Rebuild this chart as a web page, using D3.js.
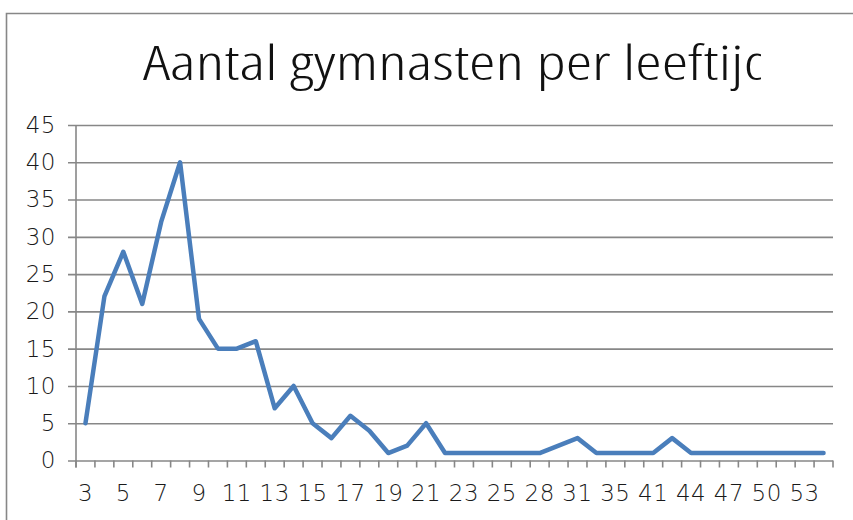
<!DOCTYPE html>
<html>
<head>
<meta charset="utf-8">
<script src="https://cdn.jsdelivr.net/npm/d3@7"></script>
<style>
  body { margin: 0; background: #fff; }
</style>
</head>
<body>
<div id="chart"></div>
<script>
// leeftijden (every other label is shown on the axis)
var ages = [3,4,5,6,7,8,9,10,11,12,13,14,15,16,17,18,19,20,21,22,23,24,25,
            27,28,30,31,33,35,38,41,42,44,45,47,48,50,51,53,56];
// aantal gymnasten
var counts = [5,22,28,21,32,40,19,15,15,16,7,10,5,3,6,4,1,2,5,
              1,1,1,1,1,1,2,3,1,1,1,1,3,1,1,1,1,1,1,1,1];
var yTicks = [0,5,10,15,20,25,30,35,40,45];
var title = "Aantal gymnasten per leeftijd";

var width = 853, height = 520;
var plotLeft = 76, plotRight = 833, plotTop = 125, plotBottom = 460.5;
var grey = "#878787";
var labelFont = "'DejaVu Sans', sans-serif";

var svg = d3.select("#chart").append("svg")
    .attr("width", width)
    .attr("height", height);

// outer chart border (top + left visible)
svg.append("path")
    .attr("d", "M6.5,520 V13.5 H853")
    .attr("fill", "none")
    .attr("stroke", grey)
    .attr("stroke-width", 1.6);

// title, clipped like the original
svg.append("clipPath").attr("id", "titleclip")
  .append("rect").attr("x", 0).attr("y", 0).attr("width", 761).attr("height", 110);

svg.append("text")
    .attr("clip-path", "url(#titleclip)")
    .attr("x", 143)
    .attr("y", 80)
    .attr("textLength", 630)
    .attr("lengthAdjust", "spacingAndGlyphs")
    .style("font-family", "'Open Sans', sans-serif")
    .style("font-weight", 300)
    .style("font-stretch", "75%")
    .style("font-size", "47px")
    .style("fill", "#111")
    .text(title);

var x = d3.scaleBand()
    .domain(ages.map(String))
    .range([plotLeft, plotRight]);

var y = d3.scaleLinear()
    .domain([0, 45])
    .range([plotBottom, plotTop]);

// gridlines + y labels
var yAxis = d3.axisLeft(y)
    .tickValues(yTicks)
    .tickSize(-(plotRight - plotLeft + 8))
    .tickPadding(12)
    .tickFormat(d3.format("d"));

var gy = svg.append("g")
    .attr("transform", "translate(" + (plotLeft - 8) + ",0)")
    .call(yAxis);
gy.select(".domain").remove();
gy.selectAll("line").attr("stroke", grey).attr("stroke-width", 1.6);
gy.selectAll("text")
    .style("font-family", labelFont)
    .style("font-weight", 200)
    .style("font-size", "23px")
    .style("letter-spacing", "0.5px")
    .style("fill", "#1a1a1a");

// vertical axis line
svg.append("line")
    .attr("x1", plotLeft).attr("x2", plotLeft)
    .attr("y1", plotTop).attr("y2", plotBottom + 7)
    .attr("stroke", grey).attr("stroke-width", 1.6);

// x ticks at band edges
var edges = ages.map(function(a) { return x(String(a)); }).concat([plotRight]);
svg.append("g").selectAll("line")
    .data(edges)
    .enter().append("line")
    .attr("x1", function(d) { return d; })
    .attr("x2", function(d) { return d; })
    .attr("y1", plotBottom)
    .attr("y2", plotBottom + 7)
    .attr("stroke", grey)
    .attr("stroke-width", 1.6);

// x labels (every other category)
var xAxis = d3.axisBottom(x)
    .tickValues(ages.filter(function(a, i) { return i % 2 === 0; }).map(String))
    .tickSize(0)
    .tickPadding(24);
var gx = svg.append("g")
    .attr("transform", "translate(0," + plotBottom + ")")
    .call(xAxis);
gx.select(".domain").remove();
gx.selectAll("text")
    .style("font-family", labelFont)
    .style("font-weight", 200)
    .style("font-size", "23px")
    .style("letter-spacing", "0.5px")
    .style("fill", "#1a1a1a");

// line
var line = d3.line()
    .x(function(d, i) { return x(String(ages[i])) + x.bandwidth() / 2; })
    .y(function(d) { return y(d); });

svg.append("path")
    .datum(counts)
    .attr("d", line)
    .attr("fill", "none")
    .attr("stroke", "#4a7ebb")
    .attr("stroke-width", 4.5)
    .attr("stroke-linejoin", "round")
    .attr("stroke-linecap", "round");
</script>
</body>
</html>
